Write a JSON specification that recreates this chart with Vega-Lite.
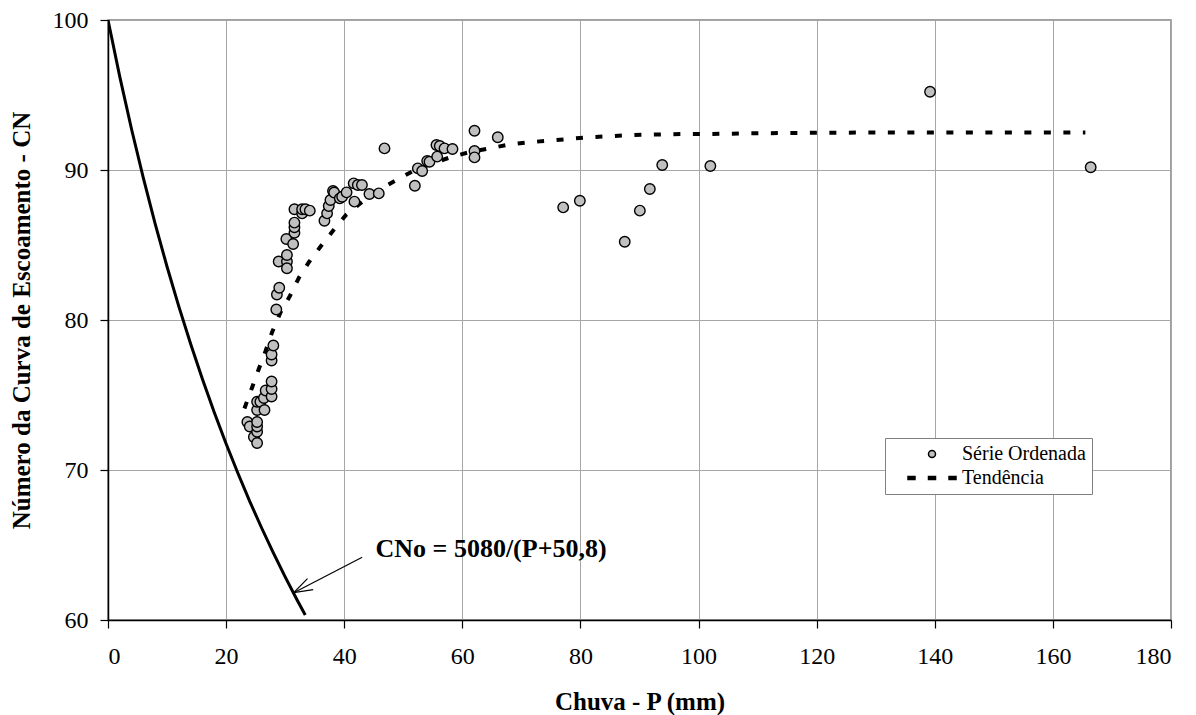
{
  "$schema": "https://vega.github.io/schema/vega-lite/v6.json",
  "width": 1063,
  "height": 600,
  "autosize": {"type": "none"},
  "padding": {"left": 108, "top": 20, "right": 25, "bottom": 95},
  "background": "white",
  "config": {
    "font": "Liberation Serif",
    "view": {"stroke": "#808080", "strokeWidth": 1.5},
    "axis": {
      "labelFont": "Liberation Serif",
      "labelFontSize": 24,
      "labelColor": "black",
      "titleFont": "Liberation Serif",
      "titleFontSize": 25,
      "titleFontWeight": "bold",
      "titleColor": "black",
      "domainColor": "black",
      "domainWidth": 1.5,
      "tickColor": "black",
      "tickWidth": 1.2,
      "tickSize": 8,
      "gridColor": "#a6a6a6",
      "gridWidth": 1
    }
  },
  "datasets": {
    "serie": [
      {"P": 23.6, "CN": 73.2}, {"P": 24.0, "CN": 72.9}, {"P": 24.7, "CN": 72.2}, {"P": 25.25, "CN": 71.8},
      {"P": 25.25, "CN": 72.55}, {"P": 25.25, "CN": 72.9}, {"P": 25.25, "CN": 73.2}, {"P": 25.25, "CN": 74.0},
      {"P": 25.25, "CN": 74.55}, {"P": 25.8, "CN": 74.55}, {"P": 26.4, "CN": 74.8}, {"P": 26.5, "CN": 74.0},
      {"P": 26.7, "CN": 75.3}, {"P": 27.7, "CN": 74.9}, {"P": 27.7, "CN": 75.4}, {"P": 27.7, "CN": 75.9},
      {"P": 27.7, "CN": 77.3}, {"P": 27.7, "CN": 77.7}, {"P": 28.0, "CN": 78.3}, {"P": 28.5, "CN": 80.7},
      {"P": 28.6, "CN": 81.7}, {"P": 29.0, "CN": 82.15}, {"P": 28.9, "CN": 83.9}, {"P": 30.3, "CN": 83.9},
      {"P": 30.3, "CN": 83.45}, {"P": 30.3, "CN": 84.33}, {"P": 30.2, "CN": 85.4}, {"P": 31.35, "CN": 85.07},
      {"P": 31.57, "CN": 85.82}, {"P": 31.57, "CN": 86.18}, {"P": 31.57, "CN": 86.49}, {"P": 31.57, "CN": 87.38},
      {"P": 32.87, "CN": 87.11}, {"P": 32.87, "CN": 87.38}, {"P": 33.43, "CN": 87.38}, {"P": 34.17, "CN": 87.29},
      {"P": 36.65, "CN": 86.62}, {"P": 37.1, "CN": 87.11}, {"P": 37.38, "CN": 87.6}, {"P": 37.67, "CN": 88.0},
      {"P": 38.1, "CN": 88.6}, {"P": 38.3, "CN": 88.5}, {"P": 39.25, "CN": 88.11}, {"P": 39.65, "CN": 88.22},
      {"P": 40.4, "CN": 88.51}, {"P": 41.73, "CN": 87.89}, {"P": 41.6, "CN": 89.11}, {"P": 42.3, "CN": 89.0},
      {"P": 43.0, "CN": 89.0}, {"P": 44.27, "CN": 88.4}, {"P": 45.85, "CN": 88.44}, {"P": 46.82, "CN": 91.44},
      {"P": 51.96, "CN": 88.95}, {"P": 52.46, "CN": 90.11}, {"P": 53.2, "CN": 89.93}, {"P": 54.05, "CN": 90.6},
      {"P": 54.44, "CN": 90.55}, {"P": 55.74, "CN": 90.89}, {"P": 55.62, "CN": 91.67}, {"P": 56.18, "CN": 91.6},
      {"P": 56.98, "CN": 91.44}, {"P": 58.33, "CN": 91.4}, {"P": 62.06, "CN": 92.62}, {"P": 62.06, "CN": 91.27},
      {"P": 62.06, "CN": 90.84}, {"P": 66.0, "CN": 92.18}, {"P": 77.08, "CN": 87.51}, {"P": 79.9, "CN": 87.95},
      {"P": 87.5, "CN": 85.22}, {"P": 90.06, "CN": 87.29}, {"P": 91.75, "CN": 88.73}, {"P": 93.85, "CN": 90.33},
      {"P": 102.0, "CN": 90.27}, {"P": 139.2, "CN": 95.22}, {"P": 166.4, "CN": 90.18}
    ],
    "tendencia": [
      {"P": 23.1, "CN": 74.1}, {"P": 24.4, "CN": 75.5}, {"P": 25.5, "CN": 76.7}, {"P": 26.7, "CN": 77.95},
      {"P": 27.8, "CN": 79.2}, {"P": 29.2, "CN": 80.5}, {"P": 30.8, "CN": 81.6}, {"P": 32.3, "CN": 82.8},
      {"P": 34.1, "CN": 83.9}, {"P": 36.0, "CN": 84.9}, {"P": 38.2, "CN": 86.0}, {"P": 40.3, "CN": 87.0},
      {"P": 42.8, "CN": 87.8}, {"P": 45.5, "CN": 88.6}, {"P": 48.7, "CN": 89.3}, {"P": 51.5, "CN": 89.9},
      {"P": 55.0, "CN": 90.45}, {"P": 58.0, "CN": 90.85}, {"P": 61.3, "CN": 91.2}, {"P": 64.7, "CN": 91.45},
      {"P": 68.0, "CN": 91.7}, {"P": 71.3, "CN": 91.85}, {"P": 74.6, "CN": 91.95}, {"P": 78.0, "CN": 92.07},
      {"P": 81.4, "CN": 92.18}, {"P": 84.7, "CN": 92.25}, {"P": 87.9, "CN": 92.31}, {"P": 91.3, "CN": 92.36},
      {"P": 94.7, "CN": 92.38}, {"P": 98.0, "CN": 92.4}, {"P": 101.3, "CN": 92.4}, {"P": 110.0, "CN": 92.45},
      {"P": 120.0, "CN": 92.48}, {"P": 130.0, "CN": 92.5}, {"P": 140.0, "CN": 92.5}, {"P": 150.0, "CN": 92.5},
      {"P": 160.0, "CN": 92.5}, {"P": 165.5, "CN": 92.5}
    ],
    "cno": [
      {"P": 0, "CN": 100.0}, {"P": 2, "CN": 96.21}, {"P": 4, "CN": 92.70}, {"P": 6, "CN": 89.44},
      {"P": 8, "CN": 86.39}, {"P": 10, "CN": 83.55}, {"P": 12, "CN": 80.89}, {"P": 14, "CN": 78.40},
      {"P": 16, "CN": 76.05}, {"P": 18, "CN": 73.84}, {"P": 20, "CN": 71.75}, {"P": 22, "CN": 69.78},
      {"P": 24, "CN": 67.91}, {"P": 26, "CN": 66.15}, {"P": 28, "CN": 64.47}, {"P": 30, "CN": 62.87},
      {"P": 32, "CN": 61.35}, {"P": 33.4, "CN": 60.33}
    ],
    "anotacao": [
      {"P": 45.3, "CN": 64.73, "Pseta": 43.04, "CNseta": 64.18, "Pponta": 31.45, "CNponta": 61.82, "texto": "CNo = 5080/(P+50,8)"}
    ]
  },
  "layer": [
    {
      "data": {"name": "cno"},
      "mark": {"type": "line", "color": "black", "strokeWidth": 3, "clip": true},
      "encoding": {
        "x": {
          "field": "P", "type": "quantitative",
          "scale": {"domain": [0, 180], "nice": false, "zero": false},
          "axis": {
            "values": [0, 20, 40, 60, 80, 100, 120, 140, 160, 180],
            "title": "Chuva - P (mm)",
            "labelPadding": 16,
            "titlePadding": 21
          }
        },
        "y": {
          "field": "CN", "type": "quantitative",
          "scale": {"domain": [60, 100], "nice": false, "zero": false},
          "axis": {
            "values": [60, 70, 80, 90, 100],
            "title": "Número da Curva de Escoamento - CN",
            "labelPadding": 12,
            "titlePadding": 18
          }
        }
      }
    },
    {
      "data": {"name": "tendencia"},
      "mark": {"type": "line", "color": "black", "strokeWidth": 4, "strokeDash": [7, 12.5]},
      "encoding": {
        "x": {"field": "P", "type": "quantitative"},
        "y": {"field": "CN", "type": "quantitative"}
      }
    },
    {
      "data": {"name": "serie"},
      "transform": [{"calculate": "'Série Ordenada'", "as": "serie"}],
      "mark": {"type": "point", "filled": true, "size": 110, "stroke": "black", "strokeWidth": 1.4, "opacity": 1},
      "encoding": {
        "x": {"field": "P", "type": "quantitative"},
        "y": {"field": "CN", "type": "quantitative"},
        "shape": {
          "field": "serie", "type": "nominal",
          "scale": {
            "domain": ["Série Ordenada", "Tendência"],
            "range": ["circle", "M-6.86,-0.4H-4.86V0.4H-6.86Z M-1,-0.4H1V0.4H-1Z M4.86,-0.4H6.86V0.4H4.86Z"]
          },
          "legend": {
            "title": null,
            "orient": "none",
            "legendX": 777,
            "legendY": 418,
            "padding": 6,
            "strokeColor": "#808080",
            "fillColor": "white",
            "labelFont": "Liberation Serif",
            "labelFontSize": 20,
            "labelColor": "black",
            "labelOffset": 20,
            "labelExpr": "datum.label + '\u00a0\u00a0\u00a0\u00a0\u00a0'",
            "symbolOffset": 31,
            "symbolSize": 49,
            "rowPadding": 4,
            "encode": {"symbols": {"update": {"stroke": {"value": "black"}, "strokeWidth": {"value": 1.2}}}}
          }
        },
        "fill": {
          "field": "serie", "type": "nominal",
          "scale": {"domain": ["Série Ordenada", "Tendência"], "range": ["#c0c0c0", "#000000"]},
          "legend": {
            "title": null,
            "orient": "none",
            "legendX": 777,
            "legendY": 418,
            "padding": 6,
            "strokeColor": "#808080",
            "fillColor": "white",
            "labelFont": "Liberation Serif",
            "labelFontSize": 20,
            "labelColor": "black",
            "labelOffset": 20,
            "labelExpr": "datum.label + '\u00a0\u00a0\u00a0\u00a0\u00a0'",
            "symbolOffset": 31,
            "symbolSize": 49,
            "rowPadding": 4,
            "encode": {"symbols": {"update": {"stroke": {"value": "black"}, "strokeWidth": {"value": 1.2}}}}
          }
        }
      }
    },
    {
      "data": {"name": "anotacao"},
      "mark": {"type": "rule", "color": "black", "strokeWidth": 1.2},
      "encoding": {
        "x": {"field": "Pseta", "type": "quantitative"},
        "y": {"field": "CNseta", "type": "quantitative"},
        "x2": {"field": "Pponta"},
        "y2": {"field": "CNponta"}
      }
    },
    {
      "data": {"name": "anotacao"},
      "mark": {"type": "point", "shape": "M-0.33,1L0,0L0.33,1", "size": 1400, "angle": 242.6, "filled": false, "stroke": "black", "strokeWidth": 1.2, "opacity": 1},
      "encoding": {
        "x": {"field": "Pponta", "type": "quantitative"},
        "y": {"field": "CNponta", "type": "quantitative"}
      }
    },
    {
      "data": {"name": "anotacao"},
      "mark": {"type": "text", "align": "left", "baseline": "middle", "font": "Liberation Serif", "fontSize": 26, "fontWeight": "bold", "color": "black"},
      "encoding": {
        "x": {"field": "P", "type": "quantitative"},
        "y": {"field": "CN", "type": "quantitative"},
        "text": {"field": "texto"}
      }
    }
  ]
}
